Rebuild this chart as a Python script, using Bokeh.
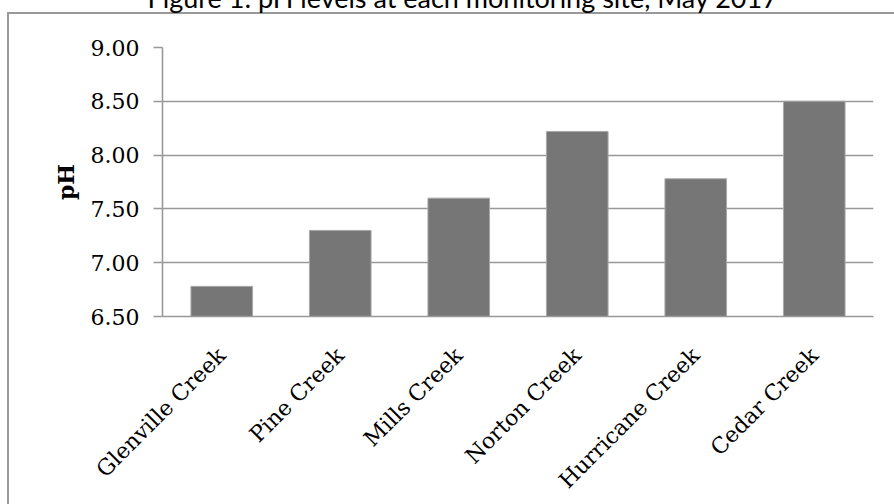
from math import pi
from bokeh.plotting import figure
from bokeh.models import Range1d, FixedTicker, PrintfTickFormatter
from bokeh.embed import file_html
from bokeh.resources import INLINE

# ---- data ----
sites = ["Glenville Creek", "Pine Creek", "Mills Creek", "Norton Creek",
         "Hurricane Creek", "Cedar Creek"]
ph_values = [6.78, 7.30, 7.60, 8.22, 7.78, 8.50]
y_ticks = [6.5, 7.0, 7.5, 8.0, 8.5, 9.0]
title_text = "Figure 1: pH levels at each monitoring site, May 2017"
y_label = "pH"

# ---- style ----
SHIFT = 60          # canvas is pushed up by this many px (top of title is cut off)
W, H = 894, 504 + SHIFT
GRID = "#999999"
BAR = "#767676"
SERIF = "DejaVu Serif"

p = figure(x_range=sites, y_range=Range1d(y_ticks[0], y_ticks[-1]),
           width=W, height=H, output_backend="svg", toolbar_location=None,
           title=title_text, min_border_left=162, min_border_right=21,
           min_border_top=47 + SHIFT, min_border_bottom=187)

p.title.align = "left"
p.title.offset = -15
p.title.standoff = 67
p.title.text_font = "Lato"
p.title.text_font_size = "27px"
p.title.text_font_style = "normal"
p.title.text_color = "#000000"

p.vbar(x=sites, top=ph_values, bottom=y_ticks[0], width=0.52,
       fill_color=BAR, line_color="#a8a8a8", line_width=1)

p.border_fill_color = None
p.background_fill_color = None
p.outline_line_color = None

p.xgrid.visible = False
p.ygrid.ticker = FixedTicker(ticks=y_ticks)
p.ygrid.grid_line_color = GRID
p.ygrid.grid_line_width = 1.6

ya = p.yaxis[0]
ya.ticker = FixedTicker(ticks=y_ticks)
ya.formatter = PrintfTickFormatter(format="%.2f")
ya.axis_line_color = GRID
ya.axis_line_width = 1.6
ya.major_tick_line_color = GRID
ya.major_tick_line_width = 1.6
ya.major_tick_out = 9
ya.major_tick_in = 0
ya.minor_tick_line_color = None
ya.major_label_standoff = 14
ya.major_label_text_font = SERIF
ya.major_label_text_font_size = "22px"
ya.major_label_text_color = "#000000"
ya.axis_label = y_label
ya.axis_label_text_font = SERIF
ya.axis_label_text_font_style = "bold"
ya.axis_label_text_font_size = "22px"
ya.axis_label_text_color = "#000000"
ya.axis_label_standoff = 9

xa = p.xaxis[0]
xa.axis_line_color = GRID
xa.axis_line_width = 1.6
xa.major_tick_out = 0
xa.major_tick_in = 0
xa.major_tick_line_color = None
xa.major_label_orientation = pi / 4
xa.major_label_standoff = 35
xa.major_label_text_font = SERIF
xa.major_label_text_font_size = "22px"
xa.major_label_text_color = "#000000"

p.styles = {
    "margin-top": f"-{SHIFT}px",
    "background": (f"linear-gradient(#999999,#999999) 7px {12 + SHIFT}px / 100% 2px no-repeat, "
                   f"linear-gradient(#999999,#999999) 7px {12 + SHIFT}px / 2px 100% no-repeat, #ffffff"),
}

open("out.html", "w").write(file_html(p, INLINE))
